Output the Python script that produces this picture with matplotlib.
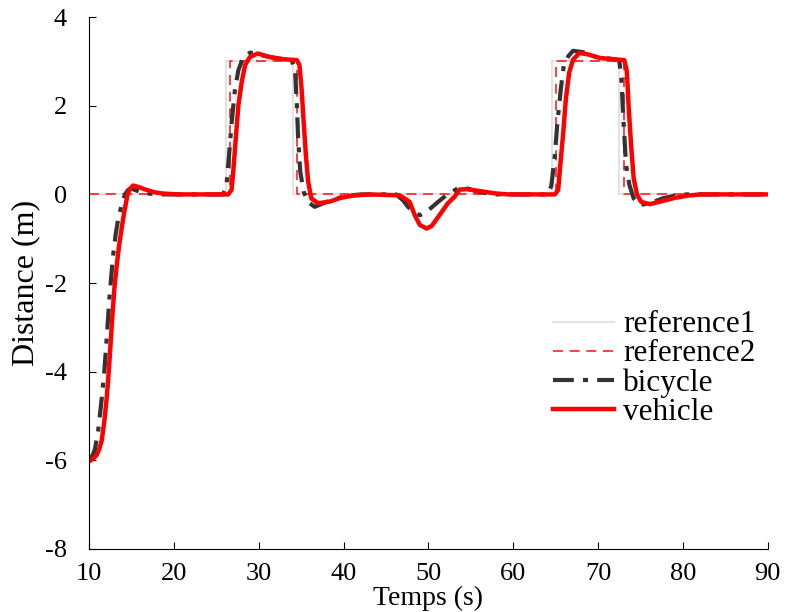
import matplotlib
matplotlib.use("Agg")
import matplotlib.pyplot as plt

plt.rcParams['font.family'] = ['Liberation Serif', 'DejaVu Serif']
plt.rcParams['axes.unicode_minus'] = False

# reference step signals (switch times, value held after each time)
ref1_t = [10, 26.1, 34.1, 64.6, 72.5, 90]
ref1_v = [0, 3, 0, 3, 0, 0]
ref2_t = [10, 26.6, 34.5, 65.0, 73.1, 90]
ref2_v = [0, 3, 0, 3, 0, 0]

bicycle_t = [10.0, 10.4, 10.7, 11.1, 11.5, 11.8, 12.1, 12.4, 12.8, 13.14, 13.45, 13.9, 14.24,
             14.6, 15.0, 16.0, 17.0, 18.5,
             25.8, 26.2, 26.5, 26.8, 27.2, 27.6, 28.2, 29.0, 30.1, 32.1, 33.9, 34.3, 34.5,
             34.65, 34.9, 35.3, 35.8, 36.6, 37.6, 39.2, 40.5, 42.0,
             46.2, 47.0, 47.6, 48.2, 49.0, 49.8, 50.95, 52.1, 53.5, 54.5, 56.05, 58.0,
             64.1, 64.5, 64.9, 65.2, 65.6, 65.95, 66.5, 67.05, 68.2, 69.8, 71.95, 72.5,
             72.75, 73.0, 73.3, 73.7, 74.2, 74.9, 76.1, 77.6, 79.0, 80.5, 90.0]
bicycle_y = [-5.98, -5.9, -5.75, -5.3, -4.6, -4.0, -3.2, -2.35, -1.45, -0.9, -0.54, -0.2, 0.0,
             0.1, 0.13, 0.06, 0.02, 0.0,
             0.0, 0.2, 0.87, 1.6, 2.36, 2.8, 3.1, 3.2, 3.15, 3.07, 3.03, 2.77, 2.0,
             1.26, 0.51, 0.06, -0.17, -0.28, -0.2, -0.09, -0.03, 0.0,
             0.0, -0.13, -0.28, -0.39, -0.47, -0.39, -0.2, -0.02, 0.14, 0.14, 0.05, 0.0,
             0.0, 0.2, 0.87, 1.6, 2.36, 2.9, 3.12, 3.24, 3.21, 3.1, 3.05, 3.03,
             2.6, 1.64, 0.66, 0.21, -0.09, -0.24, -0.2, -0.09, -0.03, 0.0, 0.0]

vehicle_t = [10.0, 10.4, 10.9, 11.2, 11.5, 11.8, 12.08, 12.27, 12.5, 12.75, 13.0, 13.3, 13.55,
             13.84, 14.16, 14.55, 14.8, 15.2, 15.8, 16.8, 17.7, 18.7, 20.5,
             26.4, 26.8, 27.0, 27.3, 27.6, 28.0, 28.4, 28.96, 29.9, 31.3, 32.9, 34.5, 34.8,
             35.05, 35.3, 35.56, 35.83, 36.2, 37.0, 38.4, 39.6, 41.0, 43.0,
             46.6, 47.2, 47.8, 48.4, 49.0, 49.8, 50.4, 51.3, 52.3, 53.1, 53.7, 54.5, 56.05,
             58.0, 59.5,
             64.9, 65.3, 65.55, 65.9, 66.2, 66.6, 67.05, 67.8, 68.8, 70.2, 71.75, 73.1, 73.4,
             73.6, 73.9, 74.2, 74.6, 75.1, 76.1, 77.6, 79.0, 80.5, 82.0, 90.0]
vehicle_y = [-6.02, -5.98, -5.88, -5.75, -5.55, -5.13, -4.6, -4.15, -3.5, -2.75, -2.1, -1.55, -1.15,
             -0.77, -0.39, 0.0, 0.12, 0.2, 0.17, 0.1, 0.05, 0.02, 0.0,
             0.0, 0.1, 0.51, 1.26, 2.0, 2.54, 2.92, 3.1, 3.18, 3.1, 3.05, 3.03, 2.92,
             2.4, 1.64, 0.89, 0.29, -0.09, -0.2, -0.16, -0.08, -0.03, 0.0,
             -0.02, -0.09, -0.17, -0.47, -0.69, -0.77, -0.71, -0.47, -0.2, -0.05, 0.11, 0.12,
             0.075, 0.02, 0.0,
             0.0, 0.1, 0.66, 1.4, 2.14, 2.75, 3.04, 3.19, 3.16, 3.08, 3.05, 3.03, 2.77,
             2.0, 1.1, 0.36, -0.01, -0.17, -0.22, -0.15, -0.08, -0.03, 0.0, 0.0]

x_ticks = [10, 20, 30, 40, 50, 60, 70, 80, 90]
y_ticks = [-8, -6, -4, -2, 0, 2, 4]

fig = plt.figure(figsize=(7.85, 6.12), dpi=100)
ax = fig.add_axes([0.1134, 0.103, 0.8646, 0.869])

ax.plot(ref1_t, ref1_v, drawstyle='steps-post', color='#e3e3e3', lw=1.5, label='reference1')
ax.plot(ref2_t, ref2_v, drawstyle='steps-post', color='#ff2020', lw=1.2,
        dashes=(6, 4), label='reference2')
ax.plot(bicycle_t, bicycle_y, color='#333333', lw=3.0, dashes=(5, 2.2, 1.2, 2.2), label='bicycle')
ax.plot(vehicle_t, vehicle_y, color='#ff0000', lw=3.2, label='vehicle')

ax.set_xlim(10, 90)
ax.set_ylim(-8, 4)
ax.set_xticks(x_ticks)
ax.set_yticks(y_ticks)
ax.spines['top'].set_visible(False)
ax.spines['right'].set_visible(False)
ax.tick_params(direction='in', length=5, labelsize=19)
ax.tick_params(axis='x', pad=10)
ax.tick_params(axis='y', pad=16)
ax.set_xlabel('Temps (s)', fontsize=20, labelpad=1)
ax.set_ylabel('Distance (m)', fontsize=23, labelpad=3)

leg = ax.legend(loc='upper left', bbox_to_anchor=(0.665, 0.472), frameon=False, fontsize=22.5,
                handlelength=1.95, handletextpad=0.3, labelspacing=0.0, borderaxespad=0)

fig.savefig('out.png', dpi=100)
